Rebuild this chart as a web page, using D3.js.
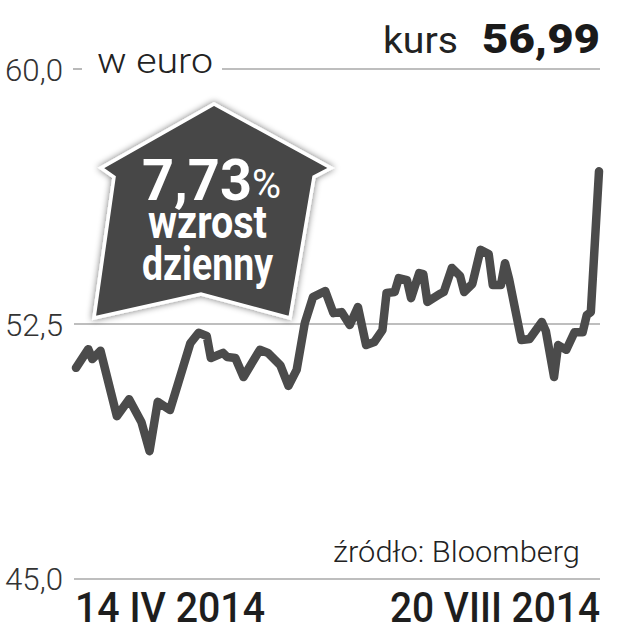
<!DOCTYPE html>
<html><head><meta charset="utf-8">
<script src="https://cdn.jsdelivr.net/npm/d3@7"></script>
<style>body{margin:0;background:#fff}svg{display:block}</style>
</head><body><svg id="c" width="640" height="640"></svg>
<script>
const dates = ["2014-04-14","2014-04-17","2014-04-18","2014-04-20","2014-04-24","2014-04-27","2014-04-30","2014-05-02","2014-05-04","2014-05-07",
"2014-05-09","2014-05-12","2014-05-14","2014-05-16","2014-05-17","2014-05-20","2014-05-21","2014-05-23","2014-05-25","2014-05-29",
"2014-05-31","2014-06-03","2014-06-05","2014-06-07","2014-06-09","2014-06-11","2014-06-14","2014-06-16","2014-06-18","2014-06-20",
"2014-06-22","2014-06-24","2014-06-26","2014-06-28","2014-06-29","2014-07-01","2014-07-02","2014-07-04","2014-07-05","2014-07-07",
"2014-07-08","2014-07-09","2014-07-12","2014-07-13","2014-07-15","2014-07-17","2014-07-18","2014-07-20","2014-07-22","2014-07-24",
"2014-07-25","2014-07-27","2014-07-28","2014-07-29","2014-08-01","2014-08-03","2014-08-06","2014-08-07","2014-08-09","2014-08-10",
"2014-08-12","2014-08-14","2014-08-16","2014-08-17","2014-08-18","2014-08-20"];
const kurs = [51.21,51.76,51.47,51.71,49.79,50.29,49.62,48.76,50.21,49.97,
50.76,51.94,52.24,52.15,51.50,51.65,51.53,51.50,50.94,51.74,
51.65,51.29,50.68,51.15,52.53,53.29,53.47,52.82,52.85,52.47,
53.00,51.88,51.97,52.32,53.41,53.44,53.85,53.79,53.26,54.00,
53.97,53.15,53.38,53.44,54.15,53.91,53.44,53.68,54.68,54.56,
53.65,53.65,54.29,53.82,52.03,52.06,52.56,52.29,50.94,51.88,
51.74,52.26,52.26,52.76,52.85,56.99];
const yTicks = [45, 52.5, 60];
const yTickLabels = ["45,0", "52,5", "60,0"];
const xLabels = ["14 IV 2014", "20 VIII 2014"];
const unitLabel = "w euro";
const lastLabel = "kurs";
const lastValueLabel = "56,99";
const badgeLines = ["7,73", "%", "wzrost", "dzienny"];
const sourceLabel = "źródło: Bloomberg";

const svg = d3.select("#c");
const parse = d3.timeParse("%Y-%m-%d");
const data = dates.map((d, i) => ({date: parse(d), v: kurs[i]}));
const x = d3.scaleTime().domain([parse(dates[0]), parse(dates[dates.length-1])]).range([76, 599]);
const y = d3.scaleLinear().domain([45, 60]).range([579, 69]);
const FONT = "Roboto, 'Noto Sans', sans-serif";

const defs = svg.append("defs");
const f = defs.append("filter").attr("id","sh").attr("x","-20%").attr("y","-20%").attr("width","140%").attr("height","140%");
f.append("feGaussianBlur").attr("in","SourceAlpha").attr("stdDeviation",3.5).attr("result","b");
f.append("feComponentTransfer").attr("in","b").attr("result","b2").append("feFuncA").attr("type","linear").attr("slope",0.55);
const m = f.append("feMerge"); m.append("feMergeNode").attr("in","b2"); m.append("feMergeNode").attr("in","SourceGraphic");

// gridlines
const grid = svg.append("g");
yTicks.forEach(t => {
  const x1 = t === 60 ? 222 : 74;
  grid.append("line").attr("x1", x1).attr("x2", 600).attr("y1", y(t)).attr("y2", y(t))
    .attr("stroke", "#a8a8a8").attr("stroke-width", 1.6);
});
grid.append("line").attr("x1", 73).attr("x2", 82).attr("y1", y(60)).attr("y2", y(60))
  .attr("stroke", "#a8a8a8").attr("stroke-width", 1.6);

function txt(s, xx, yy, size, weight, len, fill, anchor) {
  const t = svg.append("text").attr("x", xx).attr("y", yy).text(s)
    .attr("font-family", FONT).attr("font-size", size).attr("font-weight", weight)
    .attr("fill", fill || "#222");
  if (anchor) t.attr("text-anchor", anchor);
  if (len) t.attr("textLength", len).attr("lengthAdjust", "spacingAndGlyphs");
  return t;
}

// y labels
yTicks.forEach((t, i) => txt(yTickLabels[i], 5, y(t) + (t===45?11:12), 31, 300, 58, "#333"));

// line
svg.append("path").datum(data)
  .attr("d", d3.line().x(d => x(d.date)).y(d => y(d.v)))
  .attr("fill", "none").attr("stroke", "#4b4b4b").attr("stroke-width", 8.5)
  .attr("stroke-linejoin", "round").attr("stroke-linecap", "round");

// badge arrow
const arrowPts = [[214,104],[331,168],[314,177],[290,318],[201,294],[94,318],[114,177],[101,168]];
svg.append("polygon").attr("points", arrowPts.map(p => p.join(",")).join(" "))
  .attr("fill", "#464646").attr("stroke", "#fff").attr("stroke-width", 3.5)
  .attr("stroke-linejoin", "miter").attr("filter", "url(#sh)");

// badge text: one multi-line text block; "7,73%" as one line
const bt = svg.append("text").attr("font-family", FONT).attr("fill", "#fff").attr("font-weight", 700);
const l1 = bt.append("tspan").attr("x", 142).attr("y", 200);
l1.append("tspan").attr("font-size", 58).attr("font-weight", 700)
  .attr("textLength", 110).attr("lengthAdjust", "spacingAndGlyphs").text(badgeLines[0]);
l1.append("tspan").attr("font-size", 40).attr("font-weight", 400).attr("dy", -2)
  .attr("textLength", 29).attr("lengthAdjust", "spacingAndGlyphs").text(badgeLines[1]);
bt.append("tspan").attr("x", 148).attr("y", 238).attr("font-size", 47)
  .attr("textLength", 119).attr("lengthAdjust", "spacingAndGlyphs").text(badgeLines[2]);
bt.append("tspan").attr("x", 142).attr("y", 280).attr("font-size", 47)
  .attr("textLength", 131).attr("lengthAdjust", "spacingAndGlyphs").text(badgeLines[3]);

// header
txt(unitLabel, 97, 73, 35, 300, 116, "#222");
txt(lastLabel, 383, 53, 37, 400, 75, "#222");
txt(lastValueLabel, 482, 53, 41, 900, 118, "#1a1a1a");

// footer
txt(sourceLabel, 333, 562, 30, 300, 247, "#222");
txt(xLabels[0], 75, 622, 42, 500, 190, "#1e1e1e");
txt(xLabels[1], 390, 622, 42, 500, 210, "#1e1e1e");
</script></body></html>
